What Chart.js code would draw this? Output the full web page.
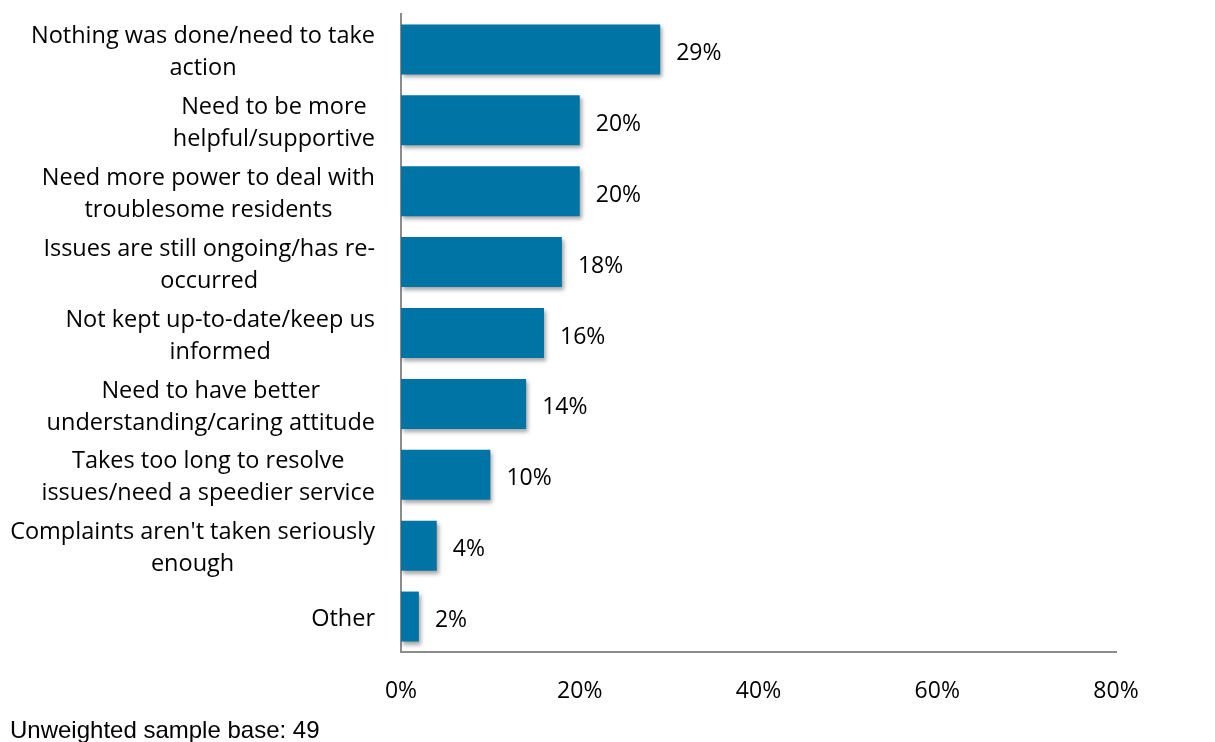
<!DOCTYPE html>
<html>
<head>
<meta charset="utf-8">
<script src="https://cdn.jsdelivr.net/npm/chart.js@4"></script>
<style>
  html, body { margin: 0; padding: 0; background: #fff; }
  #wrap { width: 1215px; height: 742px; }
</style>
</head>
<body>
<div id="wrap"><canvas id="myChart"></canvas></div>
<script>
// reasons, one entry per bar, already split into lines
const reasons = [
   ["Nothing was done/need to take", "action"],
   ["Need to be more", "helpful/supportive"],
   ["Need more power to deal with", "troublesome residents"],
   ["Issues are still ongoing/has re-", "occurred"],
   ["Not kept up-to-date/keep us", "informed"],
   ["Need to have better", "understanding/caring attitude"],
   ["Takes too long to resolve", "issues/need a speedier service"],
   ["Complaints aren't taken seriously", "enough"],
   ["Other"]
]
const percents = [29, 20, 20, 18, 16, 14, 10, 4, 2]
const xTicks = [0, 20, 40, 60, 80]
const baseNote = "Unweighted sample base: 49"

const labelFamily = "'Open Sans', Lato, sans-serif"
const labelFont = "23.5px " + labelFamily
const valueFont = "23px " + labelFamily
const lineHeight = 32
const textNudge = 3 // Open Sans sits a little high with a middle baseline

// category labels: each block right aligned, lines centred inside the block
const reasonLabels = {
   id: "reasonLabels",
   afterDraw(chart) {
      const ctx = chart.ctx
      const y = chart.scales.y
      const right = chart.chartArea.left - 26
      ctx.save()
      ctx.font = labelFont
      ctx.fillStyle = "#000"
      ctx.textAlign = "center"
      ctx.textBaseline = "middle"
      for (let i = 0; i < reasons.length; i++) {
         const lines = reasons[i]
         let w = 0
         for (let l of lines) w = Math.max(w, ctx.measureText(l).width)
         const cx = right - w / 2
         const cy = y.getPixelForTick(i) + textNudge
         const top = cy - (lines.length - 1) * lineHeight / 2
         for (let j = 0; j < lines.length; j++) {
            ctx.fillText(lines[j], cx, top + j * lineHeight)
         }
      }
      // footnote
      ctx.font = "24px 'Liberation Sans', Arial, sans-serif"
      ctx.textAlign = "left"
      ctx.fillText(baseNote, 10, 731)
      ctx.restore()
   }
}

// value labels to the right of each bar
const valueLabels = {
   id: "valueLabels",
   afterDatasetsDraw(chart) {
      const ctx = chart.ctx
      const meta = chart.getDatasetMeta(0)
      ctx.save()
      ctx.font = valueFont
      ctx.fillStyle = "#000"
      ctx.textAlign = "left"
      ctx.textBaseline = "middle"
      meta.data.forEach((bar, i) => {
         ctx.fillText(percents[i] + "%", bar.x + 16, bar.y + 1 + textNudge)
      })
      ctx.restore()
   }
}

// soft drop shadow under the bars
const barShadow = {
   id: "barShadow",
   beforeDatasetsDraw(chart) {
      const ctx = chart.ctx
      ctx.save()
      ctx.shadowColor = "rgba(0,0,0,0.35)"
      ctx.shadowBlur = 4
      ctx.shadowOffsetX = 2
      ctx.shadowOffsetY = 3
   },
   afterDatasetsDraw(chart) {
      chart.ctx.restore()
   }
}

const config = {
   type: "bar",
   data: {
      labels: reasons,
      datasets: [{
         data: percents,
         backgroundColor: "#0074a5",
         borderWidth: 0,
         barPercentage: 0.705,
         categoryPercentage: 1
      }]
   },
   options: {
      indexAxis: "y",
      responsive: true,
      maintainAspectRatio: false,
      animation: false,
      events: [],
      layout: { padding: { top: 14, right: 99, left: 0, bottom: 0 } },
      plugins: {
         legend: { display: false },
         tooltip: { enabled: false }
      },
      scales: {
         x: {
            min: 0,
            max: 80,
            afterBuildTicks(scale) {
               scale.ticks = xTicks.map(v => ({ value: v }))
            },
            afterFit(scale) { scale.height = 90 },
            grid: { display: false, drawTicks: false },
            border: { display: true, color: "#8c8c8c", width: 2 },
            ticks: {
               padding: 26,
               color: "#000",
               font: { family: labelFamily, size: 23 },
               maxRotation: 0,
               callback: v => v + "%"
            }
         },
         y: {
            afterFit(scale) { scale.width = 401 },
            grid: { display: false, drawTicks: false },
            border: { display: true, color: "#8c8c8c", width: 2 },
            ticks: { display: false }
         }
      }
   },
   plugins: [barShadow, valueLabels, reasonLabels]
}

new Chart(document.getElementById("myChart"), config)
</script>
</body>
</html>
